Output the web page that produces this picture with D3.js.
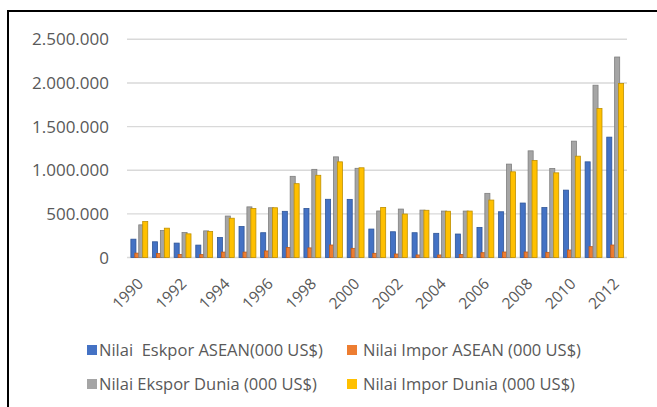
<!DOCTYPE html>
<html>
<head>
<meta charset="utf-8">
<script src="https://cdn.jsdelivr.net/npm/d3@7"></script>
<style>
  html, body { margin: 0; padding: 0; background: #fff; }
  svg { display: block; }
  text { font-family: "Open Sans", sans-serif; fill: #595959; }
</style>
</head>
<body>
<svg id="chart" width="657" height="407"></svg>
<script>
const years = ["1990","1991","1992","1993","1994","1995","1996","1997","1998","1999","2000","2001","2002","2003","2004","2005","2006","2007","2008","2009","2010","2011","2012"];
const tickYears = ["1990","1992","1994","1996","1998","2000","2002","2004","2006","2008","2010","2012"];
const yTicks = [0, 500000, 1000000, 1500000, 2000000, 2500000];

const seriesNames = [
  "Nilai  Eskpor ASEAN(000 US$)",
  "Nilai Impor ASEAN (000 US$)",
  "Nilai Ekspor Dunia (000 US$)",
  "Nilai Impor Dunia (000 US$)"
];
const seriesColors = ["#4472C4", "#ED7D31", "#A5A5A5", "#FFC000"];
const seriesStrokes = ["#2F5597", "#C55A11", "#7F7F7F", "#BF9000"];

const eksporASEAN = [210000,180000,165000,142000,229000,355000,284000,529000,562000,667000,666000,326000,295000,284000,277000,269000,345000,524000,624000,572000,772000,1096000,1379000];
const imporASEAN  = [50000,45000,35000,33000,62000,62000,75000,115000,110000,143000,105000,48000,40000,29000,29000,35000,55000,63000,63000,59000,86000,124000,143000];
const eksporDunia = [374000,309000,286000,305000,475000,580000,570000,930000,1010000,1153000,1022000,533000,555000,543000,532000,532000,735000,1070000,1222000,1020000,1333000,1974000,2297000];
const imporDunia  = [412000,336000,271000,298000,450000,562000,570000,846000,942000,1096000,1028000,574000,498000,541000,530000,532000,658000,982000,1112000,970000,1161000,1707000,1993000];

const seriesValues = [eksporASEAN, imporASEAN, eksporDunia, imporDunia];

const svg = d3.select("#chart");

// frame lines (top & left)
svg.append("line").attr("x1", 8).attr("x2", 657).attr("y1", 11).attr("y2", 11)
  .attr("stroke", "#000").attr("stroke-width", 2);
svg.append("line").attr("x1", 8).attr("x2", 8).attr("y1", 10).attr("y2", 407)
  .attr("stroke", "#000").attr("stroke-width", 2);

const plotLeft = 127, plotRight = 627;
const x = d3.scaleBand().domain(years).range([128.5, 626]).paddingInner(0.22).paddingOuter(0.11);
const y = d3.scaleLinear().domain([0, 2500000]).range([257.5, 39.3]);

const locale = d3.formatLocale({decimal: ",", thousands: ".", grouping: [3], currency: ["", ""]});
const fmt = locale.format(",d");

// gridlines
svg.append("g").selectAll("line").data(yTicks).join("line")
  .attr("x1", plotLeft).attr("x2", plotRight)
  .attr("y1", d => y(d)).attr("y2", d => y(d))
  .attr("stroke", "#D9D9D9").attr("stroke-width", 1.4);

// y labels
svg.append("g").selectAll("text").data(yTicks).join("text")
  .attr("x", 109).attr("y", d => y(d)).attr("dy", "0.36em")
  .attr("text-anchor", "end").style("font-size", "17px")
  .text(d => fmt(d));

// bars
const bw = x.bandwidth() * 0.3;
const inner = d3.scaleLinear().domain([0, 3]).range([0, x.bandwidth() - bw]);

seriesValues.forEach((vals, si) => {
  svg.append("g").selectAll("rect").data(years.map((yr, i) => ({yr, v: vals[i]}))).join("rect")
    .attr("x", d => x(d.yr) + inner(si))
    .attr("y", d => y(d.v))
    .attr("width", bw)
    .attr("height", d => y(0) - y(d.v))
    .attr("fill", seriesColors[si])
    .attr("stroke", seriesStrokes[si])
    .attr("stroke-width", 0.8);
});

// x labels
svg.append("g").selectAll("text").data(tickYears).join("text")
  .attr("text-anchor", "end")
  .attr("transform", d => `translate(${x(d) + x.bandwidth() / 2 + 1},${281}) rotate(-45)`)
  .attr("dy", "0.35em")
  .style("font-size", "15.5px")
  .text(d => d);

// legend
const legendPos = [[87, 350, 12], [347, 350, 16], [87, 384, 12], [347, 384, 16]];
const lg = svg.append("g").selectAll("g").data(seriesNames).join("g")
  .attr("transform", (d, i) => `translate(${legendPos[i][0]},${legendPos[i][1]})`);
lg.append("rect").attr("x", 0).attr("y", -5).attr("width", 10).attr("height", 10)
  .attr("fill", (d, i) => seriesColors[i]);
lg.append("text").attr("x", (d, i) => legendPos[i][2]).attr("y", 0).attr("dy", "0.35em")
  .style("font-size", "16.5px").style("white-space", "pre")
  .text(d => d);
</script>
</body>
</html>
